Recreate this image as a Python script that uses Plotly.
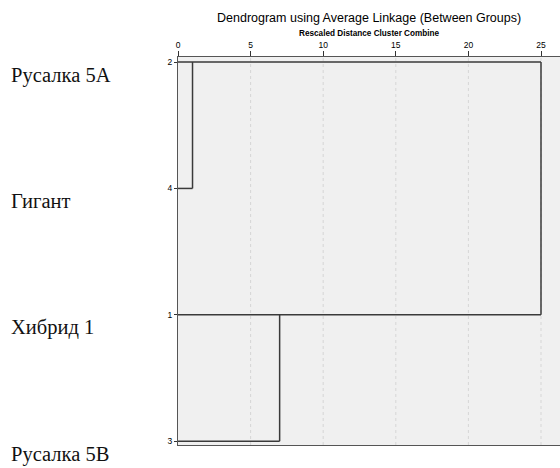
import plotly.graph_objects as go

# ---- data ----
leaf_ids = ["2", "4", "1", "3"]
leaf_names = ["Русалка 5А", "Гигант", "Хибрид 1", "Русалка 5В"]
# merges: (representative row, absorbed row, rescaled distance)
merge_a = [0, 2, 0]
merge_b = [1, 3, 2]
merge_h = [1.0, 7.0, 25.0]
x_ticks = [0, 5, 10, 15, 20, 25]

W, H = 560, 468
L, R, T, B = 178, 0, 57, 23

line_color = "#3a3a3a"
fig = go.Figure()

# horizontal line end for each row
end = [None] * len(leaf_ids)
for a, b, h in zip(merge_a, merge_b, merge_h):
    end[b] = h
for i in range(len(end)):
    if end[i] is None:
        end[i] = max(merge_h)

for i, e in enumerate(end):
    fig.add_trace(go.Scatter(x=[0, e], y=[i, i], mode="lines",
                             line=dict(color=line_color, width=1.5),
                             hoverinfo="skip", showlegend=False))
for a, b, h in zip(merge_a, merge_b, merge_h):
    fig.add_trace(go.Scatter(x=[h, h], y=[a, b], mode="lines",
                             line=dict(color=line_color, width=1.5),
                             hoverinfo="skip", showlegend=False))

# dashed grid lines
for t in x_ticks[1:]:
    fig.add_shape(type="line", xref="x", yref="paper", x0=t, x1=t, y0=0, y1=1,
                  line=dict(color="#d6d6d6", width=1, dash="3px,3px"), layer="below")

# left labels
for i, name in enumerate(leaf_names):
    fig.add_annotation(text=name, xref="paper", x=(9 - L) / (W - L - R), xanchor="left",
                       yref="y", y=i, yshift=-13, showarrow=False,
                       font=dict(family="Liberation Serif, Times New Roman, serif", size=20.5, color="#111"))

# titles
fig.add_annotation(text="Dendrogram using Average Linkage (Between Groups)",
                   xref="paper", x=0.5, yref="paper", y=1 + (T - 18.5) / (H - T - B),
                   yanchor="middle", showarrow=False,
                   font=dict(family="Liberation Sans, Arial, sans-serif", size=12.5, color="#000"))
fig.add_annotation(text="<b>Rescaled Distance Cluster Combine</b>",
                   xref="paper", x=0.5, yref="paper", y=1 + (T - 33) / (H - T - B),
                   yanchor="middle", showarrow=False,
                   font=dict(family="Liberation Sans, Arial, sans-serif", size=8.2, color="#000"))

x_max = (W - L - R) / 14.52
fig.update_layout(
    width=W, height=H,
    margin=dict(l=L, r=R, t=T, b=B),
    paper_bgcolor="white", plot_bgcolor="#f0f0f0",
    xaxis=dict(side="top", range=[0, x_max], tickvals=x_ticks,
               ticktext=[str(t) for t in x_ticks],
               showgrid=False, zeroline=False, showline=True, linecolor="#555",
               linewidth=1, mirror=True, ticks="outside", ticklen=5, tickcolor="#333",
               tickfont=dict(family="Liberation Sans, Arial, sans-serif", size=8.5, color="#000")),
    yaxis=dict(range=[3.03, -0.04], tickvals=list(range(len(leaf_ids))), ticktext=leaf_ids,
               showgrid=False, zeroline=False, showline=True, linecolor="#555", linewidth=1,
               ticks="outside", ticklen=3, tickcolor="#333",
               tickfont=dict(family="Liberation Sans, Arial, sans-serif", size=8.5, color="#000")),
)

fig.write_html("out.html", config={"displayModeBar": False},
               post_script="document.body.style.margin='0';document.body.style.overflow='hidden';")
